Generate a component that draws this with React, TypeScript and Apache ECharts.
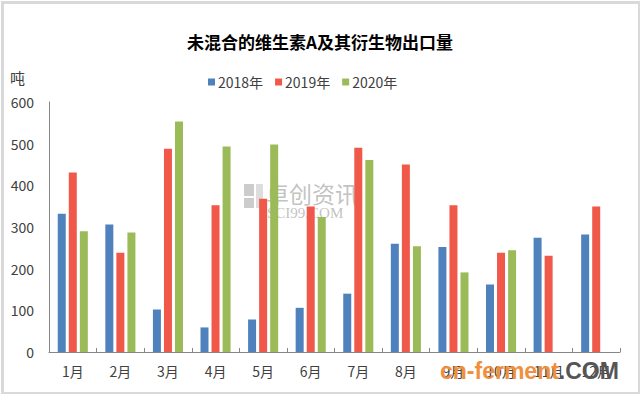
import React, { useEffect, useRef } from "react";
import * as echarts from "echarts";

const months = ["1月", "2月", "3月", "4月", "5月", "6月", "7月", "8月", "9月", "10月", "11月", "12月"];
const s2018 = [332, 306, 102, 59, 78, 106, 140, 260, 252, 162, 274, 282];
const s2019 = [431, 238, 488, 352, 368, 349, 490, 450, 352, 238, 231, 349];
const s2020: (number | null)[] = [290, 287, 553, 493, 498, 324, 461, 254, 191, 244, null, null];
const seriesNames = ["2018年", "2019年", "2020年"];
const colors = ["#4F81BD", "#F0584A", "#9BBB59"];

export default function App() {
  const ref = useRef<HTMLDivElement>(null);
  useEffect(() => {
    if (!ref.current) return;
    const chart = echarts.init(ref.current, null, { renderer: "svg" });
    const font = "'Noto Sans CJK SC', sans-serif";
    const data = [s2018, s2019, s2020];
    chart.setOption({
      animation: false,
      backgroundColor: "#ffffff",
      title: {
        text: "未混合的维生素A及其衍生物出口量",
        left: "center",
        top: 28,
        textStyle: { fontSize: 17, fontWeight: "bold", color: "#000", fontFamily: font },
      },
      legend: {
        top: 70,
        left: 203,
        itemWidth: 7,
        itemHeight: 7,
        itemGap: 12,
        icon: "rect",
        textStyle: { fontSize: 14, color: "#404040", fontFamily: font, padding: [0, 0, 0, -2] },
        data: seriesNames,
      },
      grid: { left: 49, right: 20, top: 102, bottom: 42 },
      xAxis: {
        type: "category",
        data: months,
        axisLine: { lineStyle: { color: "#868686" } },
        axisTick: { show: true, inside: true, length: 4, lineStyle: { color: "#868686" } },
        axisLabel: { fontSize: 14, color: "#404040", margin: 12, fontFamily: font },
      },
      yAxis: {
        type: "value",
        min: 0,
        max: 600,
        interval: 100,
        name: "吨",
        nameLocation: "end",
        nameGap: 17,
        nameTextStyle: { fontSize: 15, color: "#404040", fontFamily: font, align: "right", padding: [0, 24, 0, 0] },
        axisLine: { show: true, lineStyle: { color: "#868686" } },
        axisTick: { show: false },
        splitLine: { show: false },
        axisLabel: { fontSize: 14, color: "#404040", margin: 15, fontFamily: font },
      },
      series: data.map((d, i) => ({
        name: seriesNames[i],
        type: "bar",
        data: d,
        barWidth: 8,
        barGap: "38%",
        itemStyle: { color: colors[i] },
      })),
      graphic: [
        {
          type: "rect",
          left: 0,
          top: 0,
          shape: { width: 637, height: 391 },
          style: { fill: "none", stroke: "#d9d9d9", lineWidth: 3 },
          silent: true,
        },
        {
          type: "group",
          left: 244,
          top: 181,
          z: 100,
          children: [
            { type: "rect", shape: { x: 0, y: 0, width: 10, height: 12 }, style: { fill: "rgba(170,170,170,0.6)" } },
            { type: "rect", shape: { x: 0, y: 14, width: 10, height: 10 }, style: { fill: "rgba(170,170,170,0.6)" } },
            { type: "rect", shape: { x: 12, y: 0, width: 7, height: 24 }, style: { fill: "rgba(170,170,170,0.4)" } },
            {
              type: "text",
              x: 22,
              y: -3,
              style: { text: "卓创资讯", fontSize: 23, fill: "rgba(160,160,160,0.65)", fontFamily: font },
            },
            {
              type: "text",
              x: 23,
              y: 21,
              style: { text: "SCI99.COM", fontSize: 15, fill: "rgba(160,160,160,0.65)", fontFamily: "'Liberation Serif', serif" },
            },
          ],
        },
        {
          type: "text",
          left: 440,
          top: 359,
          z: 100,
          style: {
            text: "{a|cn-ferment}{b|.COM}",
            rich: {
              a: { fontSize: 23, fontWeight: "bold", fill: "#F0903E", fontFamily: "'Liberation Sans', sans-serif" },
              b: { fontSize: 23, fontWeight: "bold", fill: "#555555", fontFamily: "'Liberation Sans', sans-serif" },
            },
          },
        },
      ],
    });
    return () => chart.dispose();
  }, []);
  return <div ref={ref} style={{ position: "absolute", left: 0, top: 0, width: 640, height: 394 }} />;
}
